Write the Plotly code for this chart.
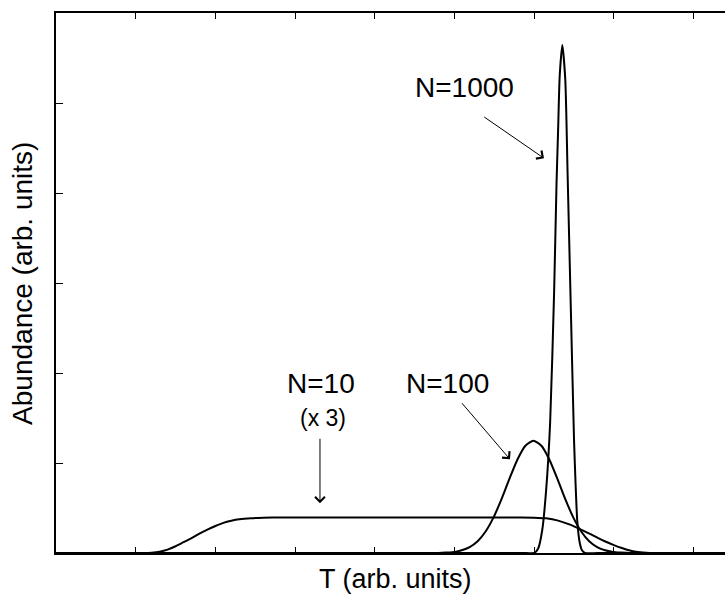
import plotly.graph_objects as go

# ---- data (x in T units, y in abundance units) ----
n10_x = [0.0, 1.1, 1.2, 1.3, 1.4, 1.5, 1.6, 1.7, 1.8, 1.9, 2.0, 2.1, 2.2, 2.3, 2.45, 2.6, 2.8, 4.0, 5.0,
         5.8, 6.0, 6.15, 6.3, 6.45, 6.6, 6.75, 6.9, 7.0, 7.1, 7.2, 7.3, 7.45, 8.4]
n10_y = [0.0, 0.0, 0.004, 0.015, 0.038, 0.075, 0.12, 0.165, 0.215, 0.26, 0.30, 0.335, 0.358, 0.374,
         0.386, 0.392, 0.394, 0.394, 0.394,
         0.394, 0.393, 0.385, 0.36, 0.315, 0.255, 0.19, 0.125, 0.088, 0.055, 0.028, 0.01, 0.0, 0.0]

n100_x = [0.0, 4.80, 4.90, 5.00, 5.09, 5.19, 5.29, 5.39, 5.49, 5.59, 5.69, 5.79, 5.89, 5.99,
          6.09, 6.19, 6.29, 6.39, 6.49, 6.59, 6.69, 6.79, 6.89, 6.99, 7.09, 7.20, 8.4]
n100_y = [0.0, 0.0, 0.005, 0.012, 0.030, 0.066, 0.131, 0.239, 0.396, 0.599, 0.826, 1.039, 1.192, 1.248,
          1.192, 1.039, 0.826, 0.599, 0.396, 0.239, 0.131, 0.066, 0.030, 0.012, 0.005, 0.0, 0.0]

n1000_x = [0.0, 5.90, 6.00, 6.05, 6.10, 6.15, 6.20, 6.25, 6.28, 6.30, 6.32, 6.353,
           6.39, 6.42, 6.46, 6.50, 6.52, 6.54, 6.57, 6.60, 6.64, 6.80, 8.4]
n1000_y = [0.0, 0.0, 0.0, 0.05, 0.25, 0.70, 1.45, 2.9, 4.1, 4.7, 5.3, 5.644,
           5.26, 4.18, 2.7, 1.25, 0.75, 0.36, 0.12, 0.03, 0.0, 0.0, 0.0]

x_ticks = [0, 1, 2, 3, 4, 5, 6, 7, 8]
y_ticks = [0, 1, 2, 3, 4, 5, 6]

labels = ["N=1000", "N=100", "N=10", "(x 3)"]
label_x = [5.13, 4.91, 3.32, 3.35]
label_y = [5.17, 1.88, 1.88, 1.50]
label_size = [28, 28, 28, 23]

arrow_head_x = [6.123, 5.696, 3.312]
arrow_head_y = [4.386, 1.041, 0.552]
arrow_tail_x = [5.354, 5.078, 3.312]
arrow_tail_y = [4.856, 1.681, 1.286]

FONT = "Liberation Sans, Arial, sans-serif"

fig = go.Figure()
for xs, ys in [(n10_x, n10_y), (n100_x, n100_y), (n1000_x, n1000_y)]:
    fig.add_trace(go.Scatter(x=xs, y=ys, mode="lines",
                             line=dict(color="black", width=2, shape="spline", smoothing=0.6),
                             showlegend=False, hoverinfo="skip"))

annotations = []
for t, x, y, s in zip(labels, label_x, label_y, label_size):
    annotations.append(dict(x=x, y=y, xref="x", yref="y", text=t, showarrow=False,
                            font=dict(family=FONT, size=s, color="black"),
                            xanchor="center", yanchor="middle"))
for hx, hy, tx, ty in zip(arrow_head_x, arrow_head_y, arrow_tail_x, arrow_tail_y):
    annotations.append(dict(x=hx, y=hy, xref="x", yref="y", ax=tx, ay=ty, axref="x", ayref="y",
                            text="", showarrow=True, arrowhead=4, arrowsize=1.9,
                            arrowwidth=1, arrowcolor="black", standoff=0, startstandoff=0))
annotations.append(dict(x=0.507, y=-0.048, xref="paper", yref="paper", text="T (arb. units)",
                        showarrow=False, font=dict(family=FONT, size=27, color="black"),
                        xanchor="center", yanchor="middle"))
annotations.append(dict(x=-0.051, y=0.5, xref="paper", yref="paper", text="Abundance (arb. units)",
                        showarrow=False, textangle=-90, font=dict(family=FONT, size=28, color="black"),
                        xanchor="center", yanchor="middle"))

fig.update_layout(
    width=725, height=595,
    margin=dict(l=56, r=0, t=13, b=42),
    paper_bgcolor="white", plot_bgcolor="white",
    annotations=annotations,
    xaxis=dict(range=[0, 8.394], tickvals=x_ticks, showticklabels=False, ticks="inside",
               ticklen=6, tickwidth=1, tickcolor="black", showline=True, linecolor="black",
               linewidth=2, mirror="ticks", showgrid=False, zeroline=False),
    yaxis=dict(range=[0, 6], tickvals=y_ticks, showticklabels=False, ticks="inside",
               ticklen=7, tickwidth=1, tickcolor="black", showline=True, linecolor="black",
               linewidth=2, mirror=False, showgrid=False, zeroline=False),
)

fig.write_html("out.html")
